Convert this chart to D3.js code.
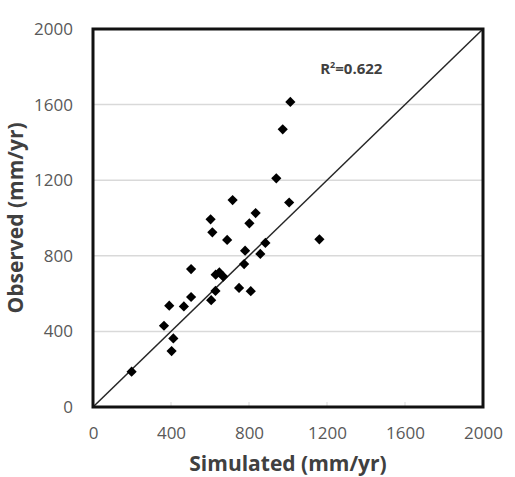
<!DOCTYPE html>
<html><head><meta charset="utf-8">
<script src="https://cdn.jsdelivr.net/npm/d3@7"></script>
<style>body{margin:0;background:#fff}svg{display:block}</style>
</head><body><svg id="c" width="515" height="477"></svg>
<script>
const simulated = [198,364,391,403,412,466,503,503,606,628,612,603,629,648,668,688,716,749,809,775,780,802,834,858,884,940,973,1012,1006,1161];
const observed  = [187,430,536,296,363,532,582,730,565,614,924,993,700,712,690,884,1095,630,613,756,827,972,1026,810,868,1210,1469,1614,1082,887];
const tickValues = [0,400,800,1200,1600,2000];
const xTitle = "Simulated (mm/yr)";
const yTitle = "Observed (mm/yr)";
const r2Label = "0.622";

const svg = d3.select("#c");
const L=93,R=483,T=29,B=407;
const x = d3.scaleLinear().domain([0,2000]).range([L,R]);
const y = d3.scaleLinear().domain([0,2000]).range([B,T]);
const font = "'Open Sans', sans-serif";

// gridlines
svg.append("g").selectAll("line").data(tickValues.filter(v=>v>0&&v<2000)).join("line")
  .attr("x1",L).attr("x2",R).attr("y1",d=>y(d)).attr("y2",d=>y(d))
  .attr("stroke","#d9d9d9").attr("stroke-width",1.5);

// small ticks on x axis
svg.append("g").selectAll("line").data(tickValues.filter(v=>v>0&&v<2000)).join("line")
  .attr("x1",d=>x(d)).attr("x2",d=>x(d)).attr("y1",B-5).attr("y2",B)
  .attr("stroke","#d9d9d9").attr("stroke-width",1);

// axes labels via d3 axes
const xAxis = svg.append("g").attr("transform",`translate(0,${B})`)
  .call(d3.axisBottom(x).tickValues(tickValues).tickSize(0).tickPadding(20).tickFormat(d3.format("d")));
const yAxis = svg.append("g").attr("transform",`translate(${L},0)`)
  .call(d3.axisLeft(y).tickValues(tickValues).tickSize(0).tickPadding(20).tickFormat(d3.format("d")));
[xAxis,yAxis].forEach(a=>{
  a.select(".domain").remove();
  a.selectAll("text").attr("fill","#595959").style("font-family",font).style("font-size","17px");
});

// 1:1 line
svg.append("line").attr("x1",x(0)).attr("y1",y(0)).attr("x2",x(2000)).attr("y2",y(2000))
  .attr("stroke","#262626").attr("stroke-width",1.5);

// frame
svg.append("rect").attr("x",L).attr("y",T).attr("width",R-L).attr("height",B-T)
  .attr("fill","none").attr("stroke","#111").attr("stroke-width",3);

// points
const sym = d3.symbol().type(d3.symbolSquare).size(52);
svg.append("g").selectAll("path").data(simulated.map((s,i)=>[s,observed[i]])).join("path")
  .attr("d",sym).attr("fill","#000")
  .attr("transform",d=>`translate(${x(d[0])},${y(d[1])}) rotate(45)`);

// R2 label
const t = svg.append("text").attr("x",x(1165)).attr("y",74).attr("fill","#404040")
  .style("font-family",font).style("font-size","15px").style("font-weight","bold");
t.append("tspan").text("R");
t.append("tspan").attr("dy",-6).style("font-size","9px").text("2");
t.append("tspan").attr("dy",6).text("=" + r2Label);

// titles
svg.append("text").attr("x",(L+R)/2).attr("y",471).attr("text-anchor","middle")
  .attr("fill","#404040").style("font-family",font).style("font-size","21px").style("font-weight","bold").text(xTitle);
svg.append("text").attr("transform",`translate(23,${(T+B)/2}) rotate(-90)`).attr("text-anchor","middle")
  .attr("fill","#404040").style("font-family",font).style("font-size","21px").style("font-weight","bold").text(yTitle);
</script></body></html>
